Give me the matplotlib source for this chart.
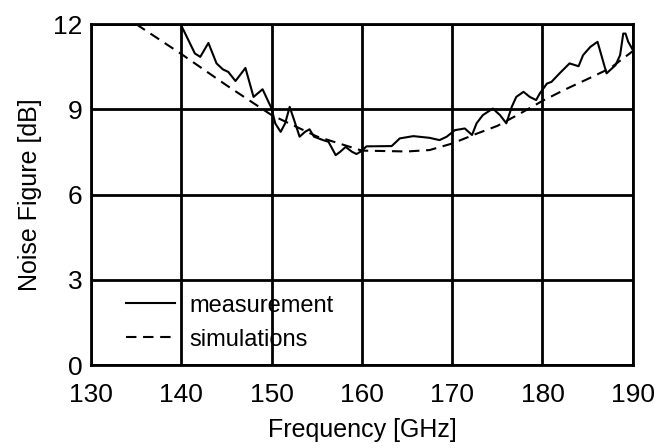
"""Noise figure vs frequency: measurement against simulation."""

import matplotlib

matplotlib.use("Agg")
import matplotlib.pyplot as plt

plt.rcParams["font.family"] = ["Liberation Sans", "DejaVu Sans"]

meas_freq = [
    140.0, 141.5, 142.1, 143.0, 143.9, 144.6, 145.2, 146.0, 147.1, 148.0,
    149.0, 150.0, 150.4, 151.0, 151.5, 152.0, 152.5, 153.1, 153.7, 154.2,
    154.7, 155.7, 156.3, 157.1, 157.6, 158.2, 158.9, 159.4, 160.0, 160.5,
    163.3, 164.2, 165.7, 167.5, 168.6, 169.4, 170.3, 171.4, 172.2, 172.7,
    173.4, 174.5, 175.3, 176.0, 176.6, 177.1, 177.9, 178.6, 179.3, 179.7,
    180.5, 181.0, 181.9, 183.0, 184.0, 184.5, 185.3, 186.1, 187.1, 188.1,
    188.6, 188.95, 189.2, 189.5, 190.0,
]
meas_nf = [
    11.95, 10.97, 10.85, 11.34, 10.62, 10.41, 10.32, 10.00, 10.46, 9.44,
    9.71, 9.03, 8.51, 8.21, 8.51, 9.09, 8.62, 8.04, 8.21, 8.30,
    8.04, 7.92, 7.86, 7.39, 7.51, 7.68, 7.51, 7.43, 7.54, 7.70,
    7.71, 7.98, 8.06, 8.00, 7.92, 8.04, 8.27, 8.33, 8.10, 8.51,
    8.80, 9.03, 8.80, 8.51, 9.09, 9.44, 9.62, 9.44, 9.33, 9.56,
    9.91, 9.97, 10.27, 10.62, 10.52, 10.91, 11.20, 11.38, 10.27, 10.56,
    10.91, 11.67, 11.67, 11.38, 11.10,
]

# simulated noise figure
sim_freq = [
    135.0, 140.0, 145.0, 150.0, 155.0, 160.0, 165.0, 167.5, 170.0, 172.5,
    175.0, 177.5, 180.0, 182.5, 185.0, 187.5, 190.0,
]
sim_nf = [
    12.0, 10.95, 9.85, 8.80, 8.05, 7.55, 7.52, 7.57, 7.80, 8.12,
    8.42, 8.85, 9.30, 9.70, 10.07, 10.45, 11.05,
]

x_ticks = [130, 140, 150, 160, 170, 180, 190]
y_ticks = [0, 3, 6, 9, 12]


def main() -> None:
    fig = plt.figure(figsize=(6.55, 4.48), dpi=100)
    ax = fig.add_axes([0.139, 0.185, 0.827, 0.761])

    ax.plot(meas_freq, meas_nf, color="black", linewidth=1.5, label="measurement")
    ax.plot(sim_freq, sim_nf, color="black", linewidth=1.5,
            dashes=(5, 3.2), label="simulations")

    ax.set_xlim(130, 190)
    ax.set_ylim(0, 12)
    ax.set_xticks(x_ticks)
    ax.set_yticks(y_ticks)
    ax.grid(True, color="black", linewidth=2.0)
    ax.set_axisbelow(True)
    for spine in ax.spines.values():
        spine.set_linewidth(2.0)
        spine.set_color("black")
    ax.tick_params(length=0, labelsize=19)
    ax.tick_params(axis="x", pad=13)
    ax.tick_params(axis="y", pad=6)

    ax.set_xlabel("Frequency [GHz]", fontsize=18, labelpad=8)
    ax.set_ylabel("Noise Figure [dB]", fontsize=18, labelpad=8)

    ax.legend(loc="lower left", bbox_to_anchor=(0.048, 0.015), frameon=False,
              fontsize=17, handlelength=2.05, handletextpad=0.62,
              labelspacing=0.5, borderaxespad=0)

    fig.savefig("out.png", dpi=100)
    plt.close(fig)


if __name__ == "__main__":
    main()
